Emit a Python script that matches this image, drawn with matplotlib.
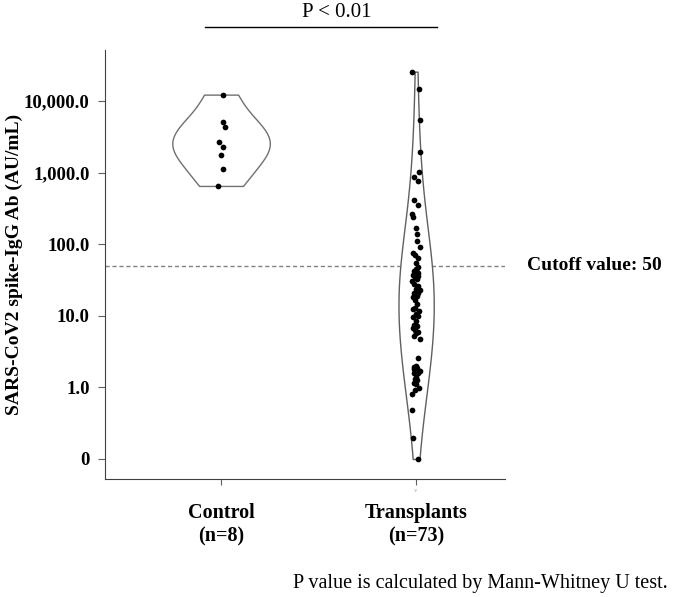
import numpy as np
import matplotlib.pyplot as plt

# =====================================
# Data (AU/mL)
# =====================================
groups = ["Control", "Transplants"]
group_labels = ["Control\n(n=8)", "Transplants\n(n=73)"]

control_vals = [12250, 5140, 4330, 2670, 2300, 1780, 1120, 650]
control_jit = [0.012, 0.012, 0.022, -0.009, 0.009, 0.0, 0.012, -0.014]

transplant_vals = [
    25650, 14560, 5430, 1920, 1030, 877, 757, 414, 352, 262,
    242, 170, 139, 111, 92, 76, 64, 55, 40.5, 37.2,
    36.3, 32.7, 30.6, 22.9, 20.6, 18.1, 16.6, 14.6, 11.8, 9.7,
    7.4, 7.2, 6.3, 5.7, 4.8, 2.6, 1.95, 1.85, 1.71, 1.57,
    1.30, 1.16, 0.99, 0.92, 0.80, 0.49, 0.196, 0.1,
    70, 48, 42, 39, 35, 28, 26, 24, 21, 19,
    13, 12.5, 10.5, 10, 8.5, 6.8, 6.0, 5.2, 2.0, 1.8,
    1.6, 1.4, 1.25, 1.1, 45,
]
# horizontal jitter (pixels left/right of centre)
transplant_jit_px = [
    -3.7, 2.7, 3.7, 3.7, 3.0, -1.7, 2.0, -2.0, 2.0, -4.3,
    -3.0, -0.3, 1.3, 0.7, 3.7, -2.7, 1.7, 0.0, 1.0, -2.7,
    1.7, 1.0, -3.7, 3.7, 1.7, -2.7, -1.0, 1.0, 2.7, -3.5,
    -1.7, 1.3, -1.0, 0.0, 3.7, 2.3, -2.3, 1.3, 3.7, -1.7,
    -1.0, -1.7, 2.7, -0.7, -4.0, -3.7, -3.0, 2.0,
    -1.0, 2.0, -2.0, 2.0, -1.0, -2.0, 2.0, 0.0, -2.0, 1.0,
    -1.0, -3.0, 0.0, 2.0, 0.0, -3.0, 2.0, -2.0, 0.0, -2.0,
    2.0, 0.0, 1.0, 0.0, 0.0,
]

cutoff = 50
y_ticks = [0.1, 1, 10, 100, 1000, 10000]
y_ticklabels = ["0", "1.0", "10.0", "100.0", "1,000.0", "10,000.0"]

plt.rcParams['font.family'] = ['Liberation Serif', 'DejaVu Serif']

# =====================================
# KDE in log space (violins, cut at data range)
# =====================================
def kde(vals, adjust=1.0):
    lv = np.log10(vals)
    n = len(lv)
    bw = adjust * lv.std(ddof=1) * n ** (-0.2)
    grid = np.linspace(lv.min(), lv.max(), 300)
    dens = np.exp(-0.5 * ((grid[:, None] - lv[None, :]) / bw) ** 2).sum(1)
    dens /= n * bw * np.sqrt(2 * np.pi)
    return grid, dens

all_vals = [np.array(control_vals, float), np.array(transplant_vals, float)]
kdes = [kde(all_vals[0], 0.9), kde(all_vals[1], 1.7)]
dmax = max(d.max() for _, d in kdes)
max_half = 0.25

# =====================================
# Plot
# =====================================
fig = plt.figure(figsize=(6.85, 5.97), dpi=100)
ax = fig.add_axes([0.1533, 0.1977, 0.584, 0.7186])
ax.set_yscale('log')

px_per_unit = 195.0
jitters = [np.array(control_jit), np.array(transplant_jit_px) / px_per_unit]
edge_cols = ["#707070", "#606060"]

for i, ((grid, dens), vals) in enumerate(zip(kdes, all_vals)):
    pos = i + 1
    hw = dens / dmax * max_half
    ax.fill_betweenx(10 ** grid, pos - hw, pos + hw, facecolor="white",
                     edgecolor=edge_cols[i], linewidth=1.0, zorder=2)
    ax.scatter(pos + jitters[i], vals, s=17, color="black", zorder=3,
               linewidths=0)

ax.axhline(cutoff, color="#808080", linestyle=(0, (3, 2)), linewidth=1.0,
           zorder=1)
ax.text(2.569, cutoff, "Cutoff value: 50", fontsize=14, fontweight="bold",
        va="center", ha="left", clip_on=False)

ax.set_xlim(0.405, 2.456)
ax.set_ylim(0.0526, 51500)
ax.set_yticks(y_ticks)
ax.set_yticklabels(y_ticklabels, fontsize=13.5, fontweight="bold")
ax.yaxis.set_minor_locator(plt.NullLocator())
ax.set_xticks([1, 2])
ax.set_xticklabels(group_labels, fontsize=14.5, fontweight="bold",
                   linespacing=1.25)
ax.tick_params(axis='x', length=4, color="#606060", pad=13)
ax.tick_params(axis='y', length=5, color="#606060", pad=6)
for s in ["top", "right"]:
    ax.spines[s].set_visible(False)
for s in ["left", "bottom"]:
    ax.spines[s].set_color("#404040")

ax.set_ylabel("SARS-CoV2 spike-IgG Ab (AU/mL)", fontsize=14,
              fontweight="bold", labelpad=1)

# small grey mark under the Transplants tick
ax.text(2, -0.026, "v", transform=ax.get_xaxis_transform(), fontsize=5,
        color="#a0a0a0", ha="center", va="center")

# significance bracket
ax.plot([0.918, 2.108], [1.0536, 1.0536], color="black", linewidth=1.0,
        transform=ax.get_xaxis_transform(), clip_on=False)
ax.text(1.595, 1.088, "P < 0.01", transform=ax.get_xaxis_transform(),
        fontsize=15, ha="center", va="center")

fig.text(0.975, 0.023, "P value is calculated by Mann-Whitney U test.",
         fontsize=14.5, ha="right", va="center")

fig.savefig("out.png", dpi=100)
